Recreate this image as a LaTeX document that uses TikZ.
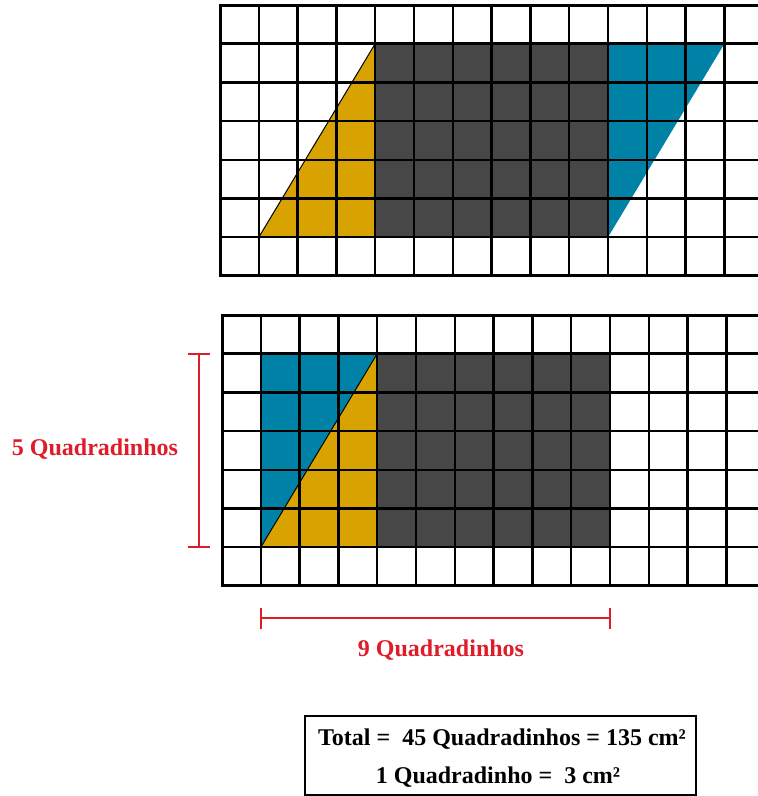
\documentclass[tikz,border=0pt]{standalone}
\usepackage{fontspec}
\setmainfont{Liberation Serif}
\definecolor{darkgr}{HTML}{474747}
\definecolor{ochre}{HTML}{D8A200}
\definecolor{teal}{HTML}{0082A6}
\definecolor{dimred}{HTML}{DE1C2A}
\newcommand\mygridlines{%
  \foreach \i in {0,...,14} \draw[gridline] (\i,0) -- (\i,7);
  \foreach \j in {0,...,7} \draw[gridline] (0,\j) -- (14.5,\j);
  \draw[gridline, line width=3pt] (14.5,0) -- (0,0) -- (0,7) -- (14.5,7);
}
\begin{document}
\begin{tikzpicture}[x=1pt,y=-1pt,
  gridline/.style={black, line width=2.5pt, line cap=rect},
  lbl/.style={font=\fontsize{24}{28}\selectfont\bfseries, inner sep=0pt},
  redlbl/.style={lbl, text=dimred},
  dimline/.style={dimred, line width=1.6pt}]
\useasboundingbox (0,0) rectangle (758,796);
\begin{scope}
\clip (0,0) rectangle (758,796);
% top grid
\begin{scope}[shift={(220,5)}, x=38.8pt, y=-38.7pt]
  \fill[darkgr] (4,1) rectangle (10,6);
  \fill[ochre] (1,6) -- (4,1) -- (4,6) -- cycle;
  \fill[teal] (10,1) -- (13,1) -- (10,6) -- cycle;
  \draw[black, line width=1pt] (1,6) -- (4,1);
  \mygridlines
\end{scope}
% bottom grid
\begin{scope}[shift={(222,315)}, x=38.8pt, y=-38.7pt]
  \fill[darkgr] (4,1) rectangle (10,6);
  \fill[teal] (1,1) -- (4,1) -- (1,6) -- cycle;
  \fill[ochre] (1,6) -- (4,1) -- (4,6) -- cycle;
  \draw[black, line width=1pt] (1,6) -- (4,1);
  \mygridlines
  \coordinate (vt) at (-0.6,1);
  \coordinate (vb) at (-0.6,6);
  \coordinate (hl) at (1,7.83);
  \coordinate (hr) at (10,7.83);
\end{scope}
\end{scope}
% dimension lines
\draw[dimline] (vt) -- (vb);
\draw[dimline] ([xshift=-11pt]vt) -- ([xshift=11pt]vt);
\draw[dimline] ([xshift=-11pt]vb) -- ([xshift=11pt]vb);
\draw[dimline] (hl) -- (hr);
\draw[dimline] ([yshift=-10.5pt]hl) -- ([yshift=10.5pt]hl);
\draw[dimline] ([yshift=-10.5pt]hr) -- ([yshift=10.5pt]hr);
\node[redlbl, anchor=base] (five) at (95,455) {5 Quadradinhos};
\node[redlbl, anchor=base] (nine) at (441,656) {9 Quadradinhos};
% summary box
\node[draw=black, line width=2pt, minimum width=391pt, minimum height=79pt, inner sep=0pt] (box) at (500.5,755) {};
\node[lbl, anchor=base] (total) at (502,745) {Total =\hspace{0.5em}45 Quadradinhos = 135 cm²};
\node[lbl, anchor=base] (one) at (498,783) {1 Quadradinho =\hspace{0.5em}3 cm²};
\end{tikzpicture}
\end{document}
